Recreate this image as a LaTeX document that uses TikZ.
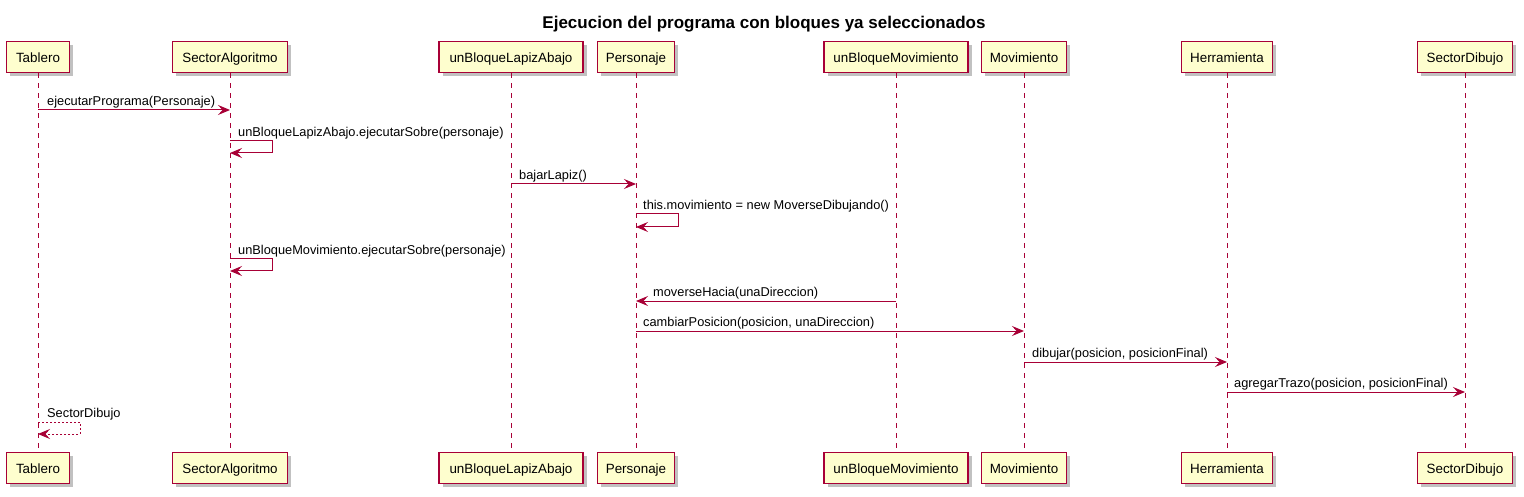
\documentclass[tikz,border=0pt]{standalone}
\usepackage{fontspec}
\setmainfont{Liberation Sans}
\usetikzlibrary{arrows.meta,shadows}
\definecolor{pborder}{HTML}{A80036}
\definecolor{pfill}{HTML}{FEFECE}
\begin{document}
\begin{tikzpicture}[x=1pt,y=-1pt,
  part/.style={draw=pborder, fill=pfill, line width=1.3pt, minimum height=31pt, inner sep=0pt,
    font=\fontsize{13.4}{16}\selectfont, text height=11.5pt, text depth=0pt,
    drop shadow={shadow xshift=3.5pt, shadow yshift=-3.5pt, opacity=0.3, fill=black!80}},
  life/.style={draw=pborder, line width=0.9pt, dash pattern=on 5pt off 5pt},
  msg/.style={draw=pborder, line width=1pt, -{Stealth[length=12pt,width=10pt,inset=4.5pt]}},
  ret/.style={msg, dash pattern=on 2pt off 2pt},
  lbl/.style={font=\fontsize{12.8}{15}\selectfont, inner sep=0pt, anchor=base west},
]
\useasboundingbox (0,0) rectangle (1524,497);
\fill[white] (0,0) rectangle (1524,497);

\node[font=\fontsize{17}{20}\selectfont\bfseries] (title) at (764,24) {Ejecucion del programa con bloques ya seleccionados};

% top participants
\node[part, minimum width=63pt]  (tT) at (38,57)   {Tablero};
\node[part, minimum width=115pt] (aT) at (230,57)  {SectorAlgoritmo};
\node[part, minimum width=144pt] (lT) at (511,57)  {unBloqueLapizAbajo};
\node[part, minimum width=77pt]  (pT) at (636,57)  {Personaje};
\node[part, minimum width=144pt] (bT) at (896,57)  {unBloqueMovimiento};
\node[part, minimum width=85pt]  (mT) at (1024,57) {Movimiento};
\node[part, minimum width=91pt]  (hT) at (1227,57) {Herramienta};
\node[part, minimum width=95pt]  (sT) at (1465,57) {SectorDibujo};
% bottom participants
\node[part, minimum width=63pt]  (tB) at (38,468)   {Tablero};
\node[part, minimum width=115pt] (aB) at (230,468)  {SectorAlgoritmo};
\node[part, minimum width=144pt] (lB) at (511,468)  {unBloqueLapizAbajo};
\node[part, minimum width=77pt]  (pB) at (636,468)  {Personaje};
\node[part, minimum width=144pt] (bB) at (896,468)  {unBloqueMovimiento};
\node[part, minimum width=85pt]  (mB) at (1024,468) {Movimiento};
\node[part, minimum width=91pt]  (hB) at (1227,468) {Herramienta};
\node[part, minimum width=95pt]  (sB) at (1465,468) {SectorDibujo};

% lifelines
\foreach \n in {t,a,l,p,b,m,h,s}{
  \draw[life] (\n T.south) -- (\n B.north);
}

% messages
\draw[msg] (tT.south |- 0,110) -- (aT.south |- 0,110);
\node[lbl] (l1) at (47,105.5) {ejecutarPrograma(Personaje)};

\draw[msg] (aT.south |- 0,141) -- ++(42,0) -- ++(0,12) -- (aT.south |- 0,153);
\node[lbl] (l2) at (238,136.5) {unBloqueLapizAbajo.ejecutarSobre(personaje)};

\draw[msg] (lT.south |- 0,184) -- (pT.south |- 0,184);
\node[lbl] (l3) at (519,179.5) {bajarLapiz()};

\draw[msg] (pT.south |- 0,214) -- ++(42,0) -- ++(0,13) -- (pT.south |- 0,227);
\node[lbl] (l4) at (643,209.5) {this.movimiento = new MoverseDibujando()};

\draw[msg] (aT.south |- 0,259) -- ++(42,0) -- ++(0,12) -- (aT.south |- 0,271);
\node[lbl] (l5) at (238,254.5) {unBloqueMovimiento.ejecutarSobre(personaje)};

\draw[msg] (bT.south |- 0,301) -- (pT.south |- 0,301);
\node[lbl] (l6) at (653,296.5) {moverseHacia(unaDireccion)};

\draw[msg] (pT.south |- 0,331) -- (mT.south |- 0,331);
\node[lbl] (l7) at (643,326.5) {cambiarPosicion(posicion, unaDireccion)};

\draw[msg] (mT.south |- 0,362) -- (hT.south |- 0,362);
\node[lbl] (l8) at (1032,357.5) {dibujar(posicion, posicionFinal)};

\draw[msg] (hT.south |- 0,392) -- (sT.south |- 0,392);
\node[lbl] (l9) at (1234,387.5) {agregarTrazo(posicion, posicionFinal)};

\draw[ret] (tT.south |- 0,422) -- ++(42,0) -- ++(0,12) -- (tT.south |- 0,434);
\node[lbl] (l10) at (47,417.5) {SectorDibujo};
\end{tikzpicture}
\end{document}
